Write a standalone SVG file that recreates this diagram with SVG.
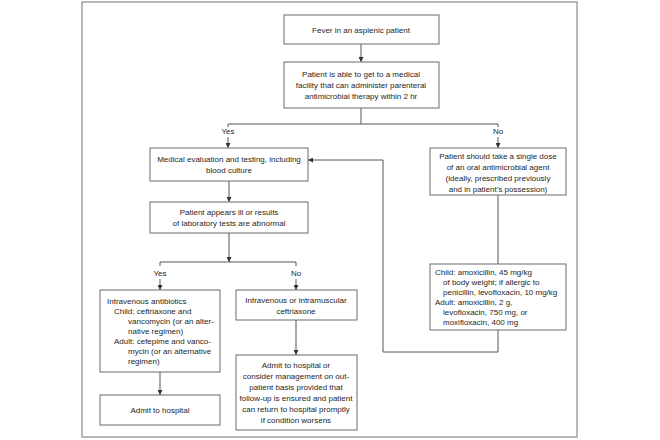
<svg xmlns="http://www.w3.org/2000/svg" width="660" height="440" viewBox="0 0 660 440">
<style>
.box{fill:#fff;stroke:#6a6a6a;stroke-width:1}
.ln{fill:none;stroke:#555;stroke-width:1}
text{font-family:"Liberation Sans",Arial,sans-serif;font-size:8px;fill:#262626}
.c{text-anchor:middle}
</style>
<defs>
<marker id="ar" viewBox="0 0 6 6" refX="6" refY="3" markerWidth="5" markerHeight="5" orient="auto" markerUnits="userSpaceOnUse">
<path d="M0,0 L6,3 L0,6 Z" fill="#333"/>
</marker>
</defs>
<rect x="0" y="0" width="660" height="440" fill="#fff"/>
<rect x="82" y="2" width="495" height="435" fill="none" stroke="#8a8a8a" stroke-width="1.2"/>

<g id="connectors">
<line class="ln" x1="361" y1="44" x2="361" y2="62" marker-end="url(#ar)"/>
<polyline class="ln" points="361,108 361,124"/>
<polyline class="ln" points="228,127 228,124 498,124 498,127"/>
<text class="c" x="228" y="134">Yes</text>
<text class="c" x="498" y="134">No</text>
<line class="ln" x1="228" y1="137" x2="228" y2="148" marker-end="url(#ar)"/>
<line class="ln" x1="498" y1="137" x2="498" y2="148" marker-end="url(#ar)"/>
<line class="ln" x1="229" y1="181" x2="229" y2="202" marker-end="url(#ar)"/>
<line class="ln" x1="229" y1="233" x2="229" y2="262" marker-end="url(#ar)"/>
<polyline class="ln" points="160,266 160,262 296,262 296,266"/>
<text class="c" x="160" y="276">Yes</text>
<text class="c" x="296" y="276">No</text>
<line class="ln" x1="160" y1="279" x2="160" y2="290" marker-end="url(#ar)"/>
<line class="ln" x1="296" y1="279" x2="296" y2="290" marker-end="url(#ar)"/>
<line class="ln" x1="160" y1="372" x2="160" y2="395" marker-end="url(#ar)"/>
<line class="ln" x1="296" y1="320" x2="296" y2="355" marker-end="url(#ar)"/>
<line class="ln" x1="498" y1="195" x2="498" y2="264"/>
<polyline class="ln" points="498,330 498,352 383,352 383,160 308,160" marker-end="url(#ar)"/>
</g>

<g id="n1">
<rect class="box" x="284" y="15" width="155" height="29"/>
<text class="c" x="361" y="33">Fever in an asplenic patient</text>
</g>
<g id="n2">
<rect class="box" x="284" y="62" width="155" height="46"/>
<text class="c" x="361" y="77">Patient is able to get to a medical</text>
<text class="c" x="361" y="88">facility that can administer parenteral</text>
<text class="c" x="361" y="99">antimicrobial therapy within 2 hr</text>
</g>
<g id="n3">
<rect class="box" x="150" y="148" width="158" height="33"/>
<text class="c" x="229" y="162">Medical evaluation and testing, including</text>
<text class="c" x="229" y="173">blood culture</text>
</g>
<g id="n4">
<rect class="box" x="430" y="148" width="136" height="47"/>
<text class="c" x="498" y="159">Patient should take a single dose</text>
<text class="c" x="498" y="170">of an oral antimicrobial agent</text>
<text class="c" x="498" y="181">(ideally, prescribed previously</text>
<text class="c" x="498" y="192">and in patient’s possession)</text>
</g>
<g id="n5">
<rect class="box" x="150" y="202" width="158" height="31"/>
<text class="c" x="229" y="215">Patient appears ill or results</text>
<text class="c" x="229" y="226">of laboratory tests are abnormal</text>
</g>
<g id="n6">
<rect class="box" x="430" y="264" width="136" height="66"/>
<text x="435" y="275">Child: amoxicillin, 45 mg/kg</text>
<text x="443" y="285">of body weight; if allergic to</text>
<text x="443" y="295">penicillin, levofloxacin, 10 mg/kg</text>
<text x="435" y="305">Adult: amoxicillin, 2 g,</text>
<text x="443" y="315">levofloxacin, 750 mg, or</text>
<text x="443" y="325">moxifloxacin, 400 mg</text>
</g>
<g id="n7">
<rect class="box" x="100" y="290" width="120" height="82"/>
<text x="107" y="304">Intravenous antibiotics</text>
<text x="114" y="314">Child: ceftriaxone and</text>
<text x="128" y="324">vancomycin (or an alter-</text>
<text x="128" y="334">native regimen)</text>
<text x="114" y="344">Adult: cefepime and vanco-</text>
<text x="128" y="354">mycin (or an alternative</text>
<text x="128" y="364">regimen)</text>
</g>
<g id="n8">
<rect class="box" x="236" y="290" width="121" height="30"/>
<text class="c" x="296" y="303">Intravenous or intramuscular</text>
<text class="c" x="296" y="314">ceftriaxone</text>
</g>
<g id="n9">
<rect class="box" x="100" y="395" width="120" height="30"/>
<text class="c" x="160" y="413">Admit to hospital</text>
</g>
<g id="n10">
<rect class="box" x="236" y="355" width="121" height="75"/>
<text class="c" x="296" y="368">Admit to hospital or</text>
<text class="c" x="296" y="379">consider management on out-</text>
<text class="c" x="296" y="390">patient basis provided that</text>
<text class="c" x="296" y="401">follow-up is ensured and patient</text>
<text class="c" x="296" y="412">can return to hospital promptly</text>
<text class="c" x="296" y="423">if condition worsens</text>
</g>
</svg>
